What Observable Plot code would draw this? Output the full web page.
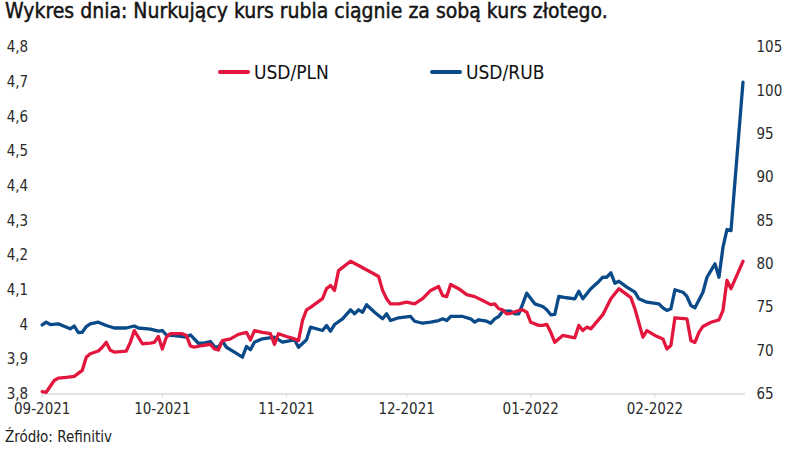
<!DOCTYPE html>
<html>
<head>
<meta charset="utf-8">
<script src="https://cdn.jsdelivr.net/npm/d3@7"></script>
<script src="https://cdn.jsdelivr.net/npm/@observablehq/plot@0.6"></script>
<style>
  html, body { margin: 0; padding: 0; background: #fff; }
  #wrap { position: relative; width: 800px; height: 463px; overflow: hidden;
          font-family: "Liberation Sans Narrow", "DejaVu Sans Condensed", "Roboto Condensed", Roboto, sans-serif; color: #222; }
  #title { position: absolute; left: 5px; top: 1px; font-size: 21px; line-height: 1; white-space: nowrap; color: #141414; -webkit-text-stroke: 0.45px #141414; }
  #chart { position: absolute; left: 0; top: 30px; }
  #source { position: absolute; left: 5px; top: 428px; font-size: 15px; color: #222; }
  .leg { position: absolute; top: 61px; font-size: 19px; color: #111; display: flex; align-items: center; white-space: nowrap; }
  .leg span.sw { display: inline-block; width: 32px; height: 4px; border-radius: 2px; margin-right: 4px; }
</style>
</head>
<body>
<div id="wrap">
  <div id="title"></div>
  <div id="chart"></div>
  <div id="legend"></div>
  <div id="source"></div>
</div>
<script>
const titleText = "Wykres dnia: Nurkujący kurs rubla ciągnie za sobą kurs złotego.";
const sourceText = "Źródło: Refinitiv";
const seriesNames = ["USD/PLN", "USD/RUB"];
const seriesColors = ["#e3173e", "#0a4a88"];

const leftTicks = [3.8, 3.9, 4.0, 4.1, 4.2, 4.3, 4.4, 4.5, 4.6, 4.7, 4.8];
const rightTicks = [65, 70, 75, 80, 85, 90, 95, 100, 105];
const monthTicks = ["2021-09-01", "2021-10-01", "2021-11-01", "2021-12-01", "2022-01-01", "2022-02-01"];

const plnDates = ["2021-09-01","2021-09-02","2021-09-04","2021-09-05","2021-09-07","2021-09-09","2021-09-11","2021-09-12","2021-09-13","2021-09-15","2021-09-16","2021-09-17","2021-09-18","2021-09-19","2021-09-22","2021-09-23","2021-09-24","2021-09-25","2021-09-26","2021-09-28","2021-09-29","2021-09-30","2021-10-01","2021-10-02","2021-10-03","2021-10-06","2021-10-07","2021-10-08","2021-10-09","2021-10-11","2021-10-13","2021-10-14","2021-10-15","2021-10-16","2021-10-18","2021-10-20","2021-10-22","2021-10-23","2021-10-24","2021-10-26","2021-10-28","2021-10-29","2021-10-30","2021-11-01","2021-11-03","2021-11-04","2021-11-05","2021-11-06","2021-11-07","2021-11-10","2021-11-11","2021-11-12","2021-11-13","2021-11-14","2021-11-17","2021-11-19","2021-11-22","2021-11-24","2021-11-25","2021-11-26","2021-11-27","2021-11-29","2021-12-01","2021-12-03","2021-12-05","2021-12-07","2021-12-09","2021-12-10","2021-12-11","2021-12-12","2021-12-14","2021-12-16","2021-12-18","2021-12-20","2021-12-22","2021-12-23","2021-12-24","2021-12-25","2021-12-26","2021-12-27","2021-12-29","2021-12-30","2021-12-31","2022-01-01","2022-01-03","2022-01-04","2022-01-05","2022-01-06","2022-01-07","2022-01-09","2022-01-12","2022-01-13","2022-01-14","2022-01-15","2022-01-16","2022-01-19","2022-01-21","2022-01-23","2022-01-26","2022-01-27","2022-01-29","2022-01-30","2022-02-01","2022-02-03","2022-02-04","2022-02-05","2022-02-06","2022-02-09","2022-02-10","2022-02-11","2022-02-12","2022-02-13","2022-02-15","2022-02-17","2022-02-18","2022-02-19","2022-02-20","2022-02-23"];
const plnValues = [3.807,3.805,3.839,3.846,3.848,3.851,3.868,3.906,3.916,3.924,3.935,3.949,3.926,3.921,3.924,3.949,3.983,3.964,3.945,3.947,3.949,3.966,3.930,3.964,3.974,3.974,3.969,3.939,3.935,3.940,3.943,3.930,3.927,3.954,3.959,3.972,3.978,3.956,3.983,3.978,3.974,3.943,3.974,3.966,3.959,3.954,4.012,4.043,4.050,4.075,4.104,4.113,4.099,4.156,4.183,4.171,4.152,4.139,4.099,4.075,4.060,4.060,4.065,4.060,4.075,4.099,4.110,4.084,4.081,4.116,4.104,4.087,4.081,4.070,4.058,4.060,4.046,4.043,4.031,4.033,4.041,4.043,4.036,4.007,3.998,3.998,4.001,3.978,3.949,3.969,3.962,3.998,3.983,3.993,3.988,4.029,4.075,4.104,4.078,4.046,3.964,3.983,3.969,3.959,3.930,3.940,4.020,4.017,3.954,3.949,3.978,3.995,4.007,4.014,4.041,4.128,4.104,4.183];

const rubDates = ["2021-09-01","2021-09-02","2021-09-03","2021-09-05","2021-09-06","2021-09-08","2021-09-09","2021-09-10","2021-09-11","2021-09-12","2021-09-13","2021-09-15","2021-09-17","2021-09-19","2021-09-22","2021-09-24","2021-09-25","2021-09-28","2021-09-30","2021-10-01","2021-10-02","2021-10-04","2021-10-07","2021-10-08","2021-10-10","2021-10-11","2021-10-13","2021-10-14","2021-10-15","2021-10-16","2021-10-17","2021-10-19","2021-10-21","2021-10-22","2021-10-23","2021-10-24","2021-10-26","2021-10-29","2021-10-31","2021-11-03","2021-11-04","2021-11-06","2021-11-07","2021-11-10","2021-11-11","2021-11-12","2021-11-13","2021-11-15","2021-11-17","2021-11-18","2021-11-19","2021-11-20","2021-11-21","2021-11-23","2021-11-25","2021-11-26","2021-11-27","2021-11-29","2021-12-02","2021-12-03","2021-12-05","2021-12-07","2021-12-09","2021-12-10","2021-12-11","2021-12-12","2021-12-15","2021-12-17","2021-12-18","2021-12-19","2021-12-21","2021-12-22","2021-12-23","2021-12-24","2021-12-25","2021-12-27","2021-12-28","2021-12-29","2021-12-30","2021-12-31","2022-01-02","2022-01-04","2022-01-05","2022-01-06","2022-01-07","2022-01-08","2022-01-10","2022-01-12","2022-01-13","2022-01-14","2022-01-16","2022-01-18","2022-01-19","2022-01-20","2022-01-21","2022-01-22","2022-01-23","2022-01-25","2022-01-27","2022-01-28","2022-01-29","2022-01-30","2022-02-02","2022-02-03","2022-02-04","2022-02-05","2022-02-06","2022-02-08","2022-02-09","2022-02-10","2022-02-11","2022-02-13","2022-02-14","2022-02-16","2022-02-17","2022-02-18","2022-02-19","2022-02-20","2022-02-23"];
const rubValues = [72.97,73.29,73.02,73.10,72.91,72.53,72.85,72.10,72.13,72.79,73.10,73.29,72.91,72.62,72.62,72.85,72.62,72.48,72.25,72.33,71.81,71.75,71.58,71.83,70.86,70.86,71.06,70.48,70.40,71.10,70.40,69.83,69.25,70.48,70.10,70.98,71.37,71.56,70.98,71.26,70.40,71.26,72.71,72.33,72.91,72.25,73.02,73.68,74.72,74.26,74.72,74.44,75.30,74.44,73.68,74.26,73.48,73.80,73.95,73.40,73.17,73.29,73.48,73.68,73.48,73.95,73.95,73.68,73.29,73.57,73.40,73.17,73.68,73.95,74.56,74.56,74.26,74.26,75.41,76.64,75.41,75.10,74.72,74.14,74.18,76.26,76.11,75.99,76.87,75.99,77.14,77.99,78.48,78.48,78.99,77.79,78.02,77.33,76.75,75.99,75.79,75.60,75.41,74.95,74.64,74.84,77.03,76.75,76.26,75.22,74.95,76.75,78.48,80.03,78.48,81.95,83.99,83.87,101.0];

const parse = d3.utcParse("%Y-%m-%d");
const pln = plnDates.map((d, i) => ({date: parse(d), v: plnValues[i]}));
const rub = rubDates.map((d, i) => ({date: parse(d), v: rubValues[i]}));

// right axis (RUB 65..105) mapped onto left axis (PLN 3.8..4.8)
const rubToPln = r => 3.8 + (r - 65) / 40;
const plnToRub = p => 65 + (p - 3.8) * 40;

const fmtComma = v => {
  const r = Math.round(v * 10) / 10;
  return (Number.isInteger(r) ? String(r) : r.toFixed(1)).replace(".", ",");
};

const textColor = "#2a2a2a";
const chart = Plot.plot({
  width: 800,
  height: 390,
  marginLeft: 41.7,
  marginRight: 55,
  marginTop: 17,
  marginBottom: 26.5,
  style: {fontFamily: "'Liberation Sans Narrow', 'DejaVu Sans Condensed', 'Roboto Condensed', Roboto, sans-serif", fontSize: "15px", color: textColor, background: "white"},
  x: {type: "utc", domain: [parse("2021-09-01"), new Date(Date.UTC(2022, 1, 23, 15))]},
  y: {domain: [3.8, 4.8]},
  marks: [
    Plot.ruleY([3.8], {stroke: "#d9d9d9", strokeWidth: 1.5}),
    Plot.axisX(monthTicks.map(parse), {tickSize: 4, tickPadding: 5, stroke: "#d9d9d9", fill: textColor, tickFormat: d3.utcFormat("%m-%Y"), fontSize: 15}),
    Plot.axisY(leftTicks, {anchor: "left", tickSize: 0, tickPadding: 14, tickFormat: fmtComma, fill: textColor, fontSize: 15, label: null}),
    Plot.axisY(rightTicks.map(rubToPln), {anchor: "right", tickSize: 0, tickPadding: 11, tickFormat: v => String(Math.round(plnToRub(v))), fill: textColor, fontSize: 15, label: null}),
    Plot.lineY(rub, {x: "date", y: d => rubToPln(d.v), stroke: seriesColors[1], strokeWidth: 3.3, strokeLinejoin: "round"}),
    Plot.lineY(pln, {x: "date", y: "v", stroke: seriesColors[0], strokeWidth: 3.3, strokeLinejoin: "round"})
  ]
});
document.getElementById("chart").appendChild(chart);
document.getElementById("title").textContent = titleText;
document.getElementById("source").textContent = sourceText;

const legendPos = [218, 430];
const legend = document.getElementById("legend");
seriesNames.forEach((name, i) => {
  const el = document.createElement("div");
  el.className = "leg";
  el.style.left = legendPos[i] + "px";
  const sw = document.createElement("span");
  sw.className = "sw";
  sw.style.background = seriesColors[i];
  el.appendChild(sw);
  el.appendChild(document.createTextNode(name));
  legend.appendChild(el);
});
</script>
</body>
</html>
